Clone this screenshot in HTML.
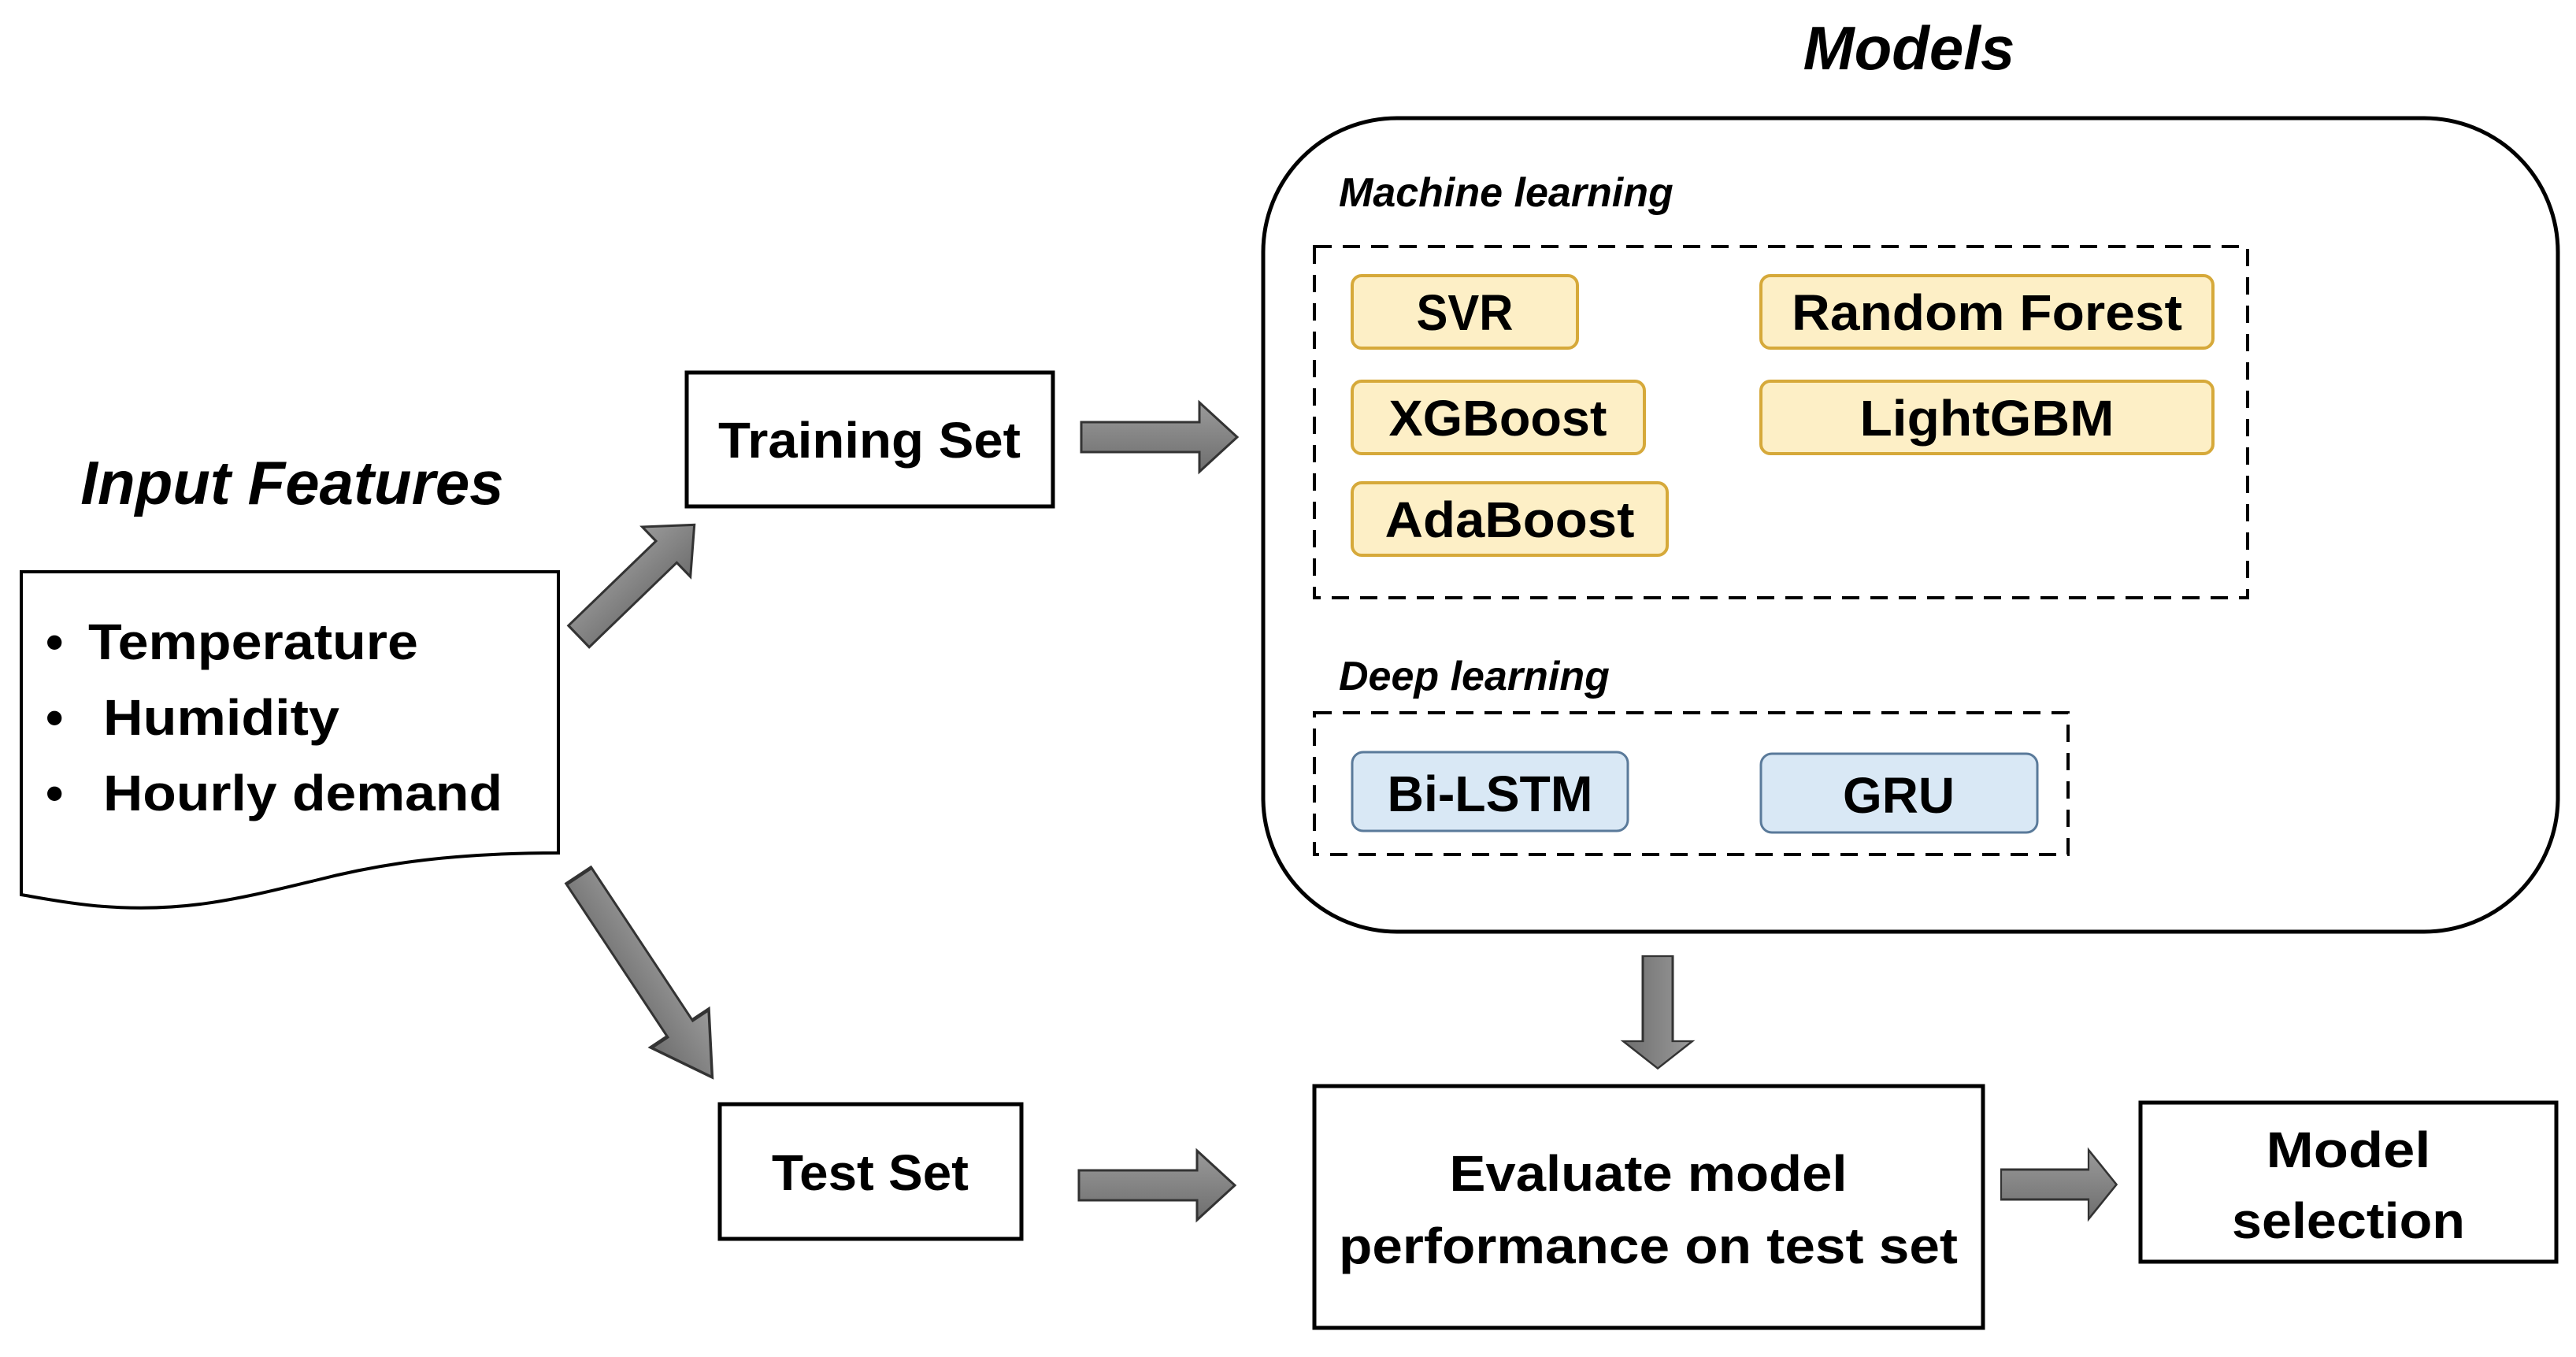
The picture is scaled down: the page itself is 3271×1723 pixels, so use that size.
<!DOCTYPE html>
<html><head><meta charset="utf-8"><style>
html,body{margin:0;padding:0;background:#fff}
svg{display:block}
text{font-family:"Liberation Sans",sans-serif;font-weight:bold;fill:#000}
</style></head><body>
<svg width="3271" height="1723" viewBox="0 0 3271 1723" xmlns="http://www.w3.org/2000/svg">
<defs>
<linearGradient id="g" x1="0" y1="0" x2="0" y2="1"><stop offset="0" stop-color="#9a9a9a"/><stop offset="1" stop-color="#6e6e6e"/></linearGradient>
<g id="arr"><polygon points="0,-19 150,-19 150,-44 198,0 150,44 150,19 0,19" fill="url(#g)" stroke="#333" stroke-width="3"/></g>
</defs>

<text x="2424" y="88" font-size="78" font-style="italic" text-anchor="middle">Models</text>
<text x="371" y="640" font-size="78" font-style="italic" text-anchor="middle">Input Features</text>

<rect x="1604" y="150" width="1644" height="1033" rx="170" ry="170" fill="#fff" stroke="#000" stroke-width="5"/>
<text x="1700" y="262" font-size="52" font-style="italic">Machine learning</text>
<rect x="1669" y="313" width="1185" height="446" fill="none" stroke="#000" stroke-width="4" stroke-dasharray="22,14"/>
<g stroke="#d6a93a" stroke-width="4" fill="#fdefc6">
<rect x="1717" y="350" width="286" height="92" rx="12"/>
<rect x="2236" y="350" width="574" height="92" rx="12"/>
<rect x="1717" y="484" width="371" height="92" rx="12"/>
<rect x="2236" y="484" width="574" height="92" rx="12"/>
<rect x="1717" y="613" width="400" height="92" rx="12"/>
</g>
<g font-size="64" text-anchor="middle" lengthAdjust="spacingAndGlyphs">
<text x="1860" y="419" textLength="123" lengthAdjust="spacingAndGlyphs">SVR</text>
<text x="2523" y="419" textLength="496" lengthAdjust="spacingAndGlyphs">Random Forest</text>
<text x="1902" y="553" textLength="277" lengthAdjust="spacingAndGlyphs">XGBoost</text>
<text x="2523" y="553" textLength="323" lengthAdjust="spacingAndGlyphs">LightGBM</text>
<text x="1917" y="682" textLength="317" lengthAdjust="spacingAndGlyphs">AdaBoost</text>
</g>
<text x="1700" y="876" font-size="52" font-style="italic">Deep learning</text>
<rect x="1669" y="905" width="957" height="180" fill="none" stroke="#000" stroke-width="4" stroke-dasharray="22,14"/>
<g stroke="#5a7a9a" stroke-width="3" fill="#d9e8f5">
<rect x="1717" y="955" width="350" height="100" rx="14"/>
<rect x="2236" y="957" width="351" height="100" rx="14"/>
</g>
<g font-size="64" text-anchor="middle">
<text x="1892" y="1030" textLength="261" lengthAdjust="spacingAndGlyphs">Bi-LSTM</text>
<text x="2411" y="1032" textLength="142" lengthAdjust="spacingAndGlyphs">GRU</text>
</g>

<path d="M27,726 L709,726 L709,1083 C560,1083 470,1100 400,1118 C300,1142 230,1160 120,1150 C80,1146 50,1140 27,1136 Z" fill="#fff" stroke="#000" stroke-width="4"/>
<g font-size="64">
<text x="58" y="837">•</text><text x="112" y="837" textLength="419" lengthAdjust="spacingAndGlyphs">Temperature</text>
<text x="58" y="933">•</text><text x="131" y="933" textLength="300" lengthAdjust="spacingAndGlyphs">Humidity</text>
<text x="58" y="1029">•</text><text x="131" y="1029" textLength="507" lengthAdjust="spacingAndGlyphs">Hourly demand</text>
</g>

<g fill="#fff" stroke="#000" stroke-width="5">
<rect x="872" y="473" width="465" height="170"/>
<rect x="914" y="1402" width="383" height="171"/>
<rect x="1669" y="1379" width="849" height="307"/>
<rect x="2718" y="1400" width="528" height="202"/>
</g>
<g font-size="64" text-anchor="middle">
<text x="1104" y="581" textLength="384" lengthAdjust="spacingAndGlyphs">Training Set</text>
<text x="1105" y="1511" textLength="250" lengthAdjust="spacingAndGlyphs">Test Set</text>
<text x="2093" y="1512" textLength="505" lengthAdjust="spacingAndGlyphs">Evaluate model</text>
<text x="2093" y="1604" textLength="786" lengthAdjust="spacingAndGlyphs">performance on test set</text>
<text x="2982" y="1482" textLength="209" lengthAdjust="spacingAndGlyphs">Model</text>
<text x="2982" y="1572" textLength="296" lengthAdjust="spacingAndGlyphs">selection</text>
</g>

<use href="#arr" transform="translate(1373,555)"/>
<use href="#arr" transform="translate(1370,1505)"/>
<use href="#arr" transform="translate(2541,1504) scale(0.74,1)"/>
<use href="#arr" transform="translate(2105,1214) rotate(90) scale(0.72,1)"/>
<use href="#arr" transform="translate(735,808) rotate(-44) scale(1.03,1)"/>
<use href="#arr" transform="translate(735,1112) rotate(56.5) scale(1.55,1)"/>
</svg>
</body></html>
